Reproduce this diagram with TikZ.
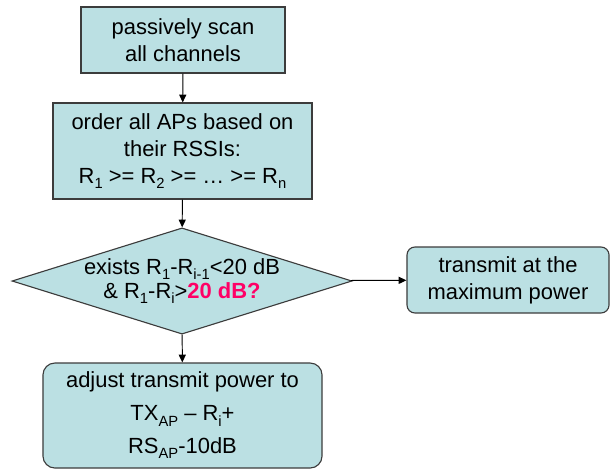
\documentclass[tikz,border=0pt]{standalone}
\usepackage{fontspec}
\setmainfont{Liberation Sans}
\usetikzlibrary{arrows.meta,positioning,shapes.geometric}

\definecolor{boxfill}{RGB}{187,224,227}
\definecolor{boxline}{RGB}{60,60,60}
\definecolor{hotpink}{RGB}{255,0,102}
\newcommand{\lowsub}[1]{\raisebox{-0.45ex}{\fontsize{10.5}{10.5}\selectfont #1}}

\begin{document}
\begin{tikzpicture}[
            x=0.025cm,y=-0.025cm,
            every node/.append style={align=center,font=\fontsize{15.6}{19}\selectfont},
            box/.style={draw=boxline,fill=boxfill,line width=0.8pt,inner sep=0pt},
            rbox/.style={box,rounded corners=#1},
            decision/.style={box,diamond,aspect=3.2},
            arr/.style={black,line width=0.7pt,-{Triangle[length=5.5pt,width=5pt]}}
        ]
            \useasboundingbox (0,0) rectangle (610,470);

            \node[box,minimum width=5.1cm,minimum height=1.65cm] (scan) at (183,40)
                {passively scan\\all channels};
            \node[box,minimum width=6.475cm,minimum height=2.4cm] (order) at (182.5,151)
                {order all APs based on\\their RSSIs:\\R\lowsub{1} >= R\lowsub{2} >= … >= R\lowsub{n}};
            \node[decision,minimum width=8.4cm,minimum height=2.65cm,
                font=\fontsize{15.6}{17}\selectfont] (test) at (182,281)
                {exists R\lowsub{1}-R\lowsub{i-1}<20 dB\\
                 \& R\lowsub{1}-R\lowsub{i}>\textcolor{hotpink}{\textbf{20 dB?}}};
            \node[rbox=5.7pt,minimum width=5.05cm,minimum height=1.65cm] (max) at (508,280)
                {transmit at the\\maximum power};
            \node[rbox=8.5pt,minimum width=6.975cm,minimum height=2.625cm,
                font=\fontsize{15.6}{23.4}\selectfont] (adjust) at (182.5,415.5)
                {adjust transmit power to\\TX\lowsub{AP} – R\lowsub{i}+\\RS\lowsub{AP}-10dB};

            \draw[arr] (scan) -- (order);
            \draw[arr] (order) -- (test);
            \draw[arr] (test) -- (max);
            \draw[arr] (test) -- (adjust);
        \end{tikzpicture}
\end{document}
